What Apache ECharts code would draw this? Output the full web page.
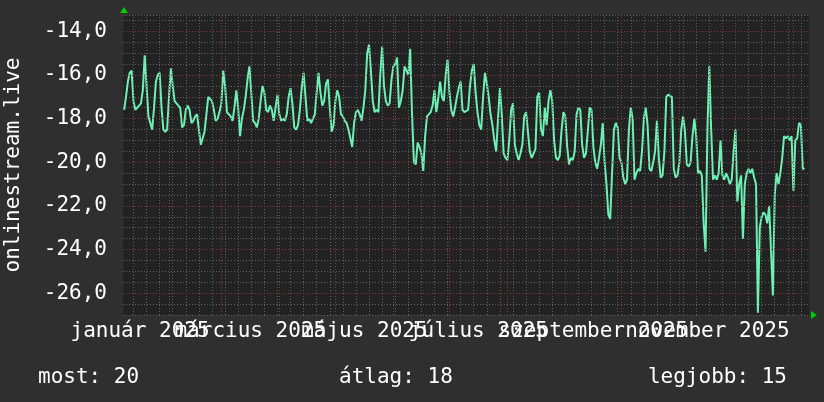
<!DOCTYPE html>
<html><head><meta charset="utf-8">
<script src="https://cdn.jsdelivr.net/npm/echarts@6/dist/echarts.min.js"></script>
<style>html,body{margin:0;padding:0;background:#2f2f2f}#c{width:824px;height:402px}</style>
</head><body><div id="c"></div>
<script>
// ---- data ----
const seriesName = 'onlinestream.live';
const firstDay = [2025, 0, 8];            // first daily sample
const values = [
-17.6,-17.0,-16.3,-15.9,-15.8,-17.2,-17.6,-17.5,-17.4,-17.3,-16.7,-15.1,-15.1,-17.9,
-18.2,-18.5,-17.5,-16.3,-16.0,-15.9,-17.5,-18.5,-18.6,-18.5,
-17.0,-15.7,-16.5,-17.2,-17.3,-17.4,-17.5,-18.4,-18.3,-17.6,
-17.4,-17.6,-18.2,-18.1,-17.9,-17.8,-18.5,-19.2,-18.9,-18.6,
-17.8,-17.0,-17.0,-17.2,-17.6,-18.1,-18.0,-17.7,-17.3,-15.8,
-16.5,-17.7,-17.8,-17.9,-18.1,-17.5,-16.7,-17.5,-18.8,-18.0,
-17.6,-17.0,-16.2,-15.6,-16.8,-18.1,-18.2,-18.4,-18.0,-17.2,
-16.5,-16.8,-17.6,-17.7,-17.4,-17.6,-18.1,-17.5,-16.9,-17.8,
-18.1,-18.0,-18.1,-17.8,-17.0,-16.6,-17.3,-18.4,-18.5,-18.3,
-17.6,-16.6,-15.9,-17.0,-18.1,-18.0,-18.2,-18.2,-17.8,-16.8,
-15.9,-16.8,-17.4,-17.2,-16.4,-16.2,-17.5,-18.6,-18.3,-17.2,
-16.7,-17.0,-17.8,-17.9,-18.1,-18.2,-18.5,-18.9,-19.3,-18.2,
-17.7,-17.6,-17.8,-18.1,-17.5,-16.7,-15.0,-14.6,-15.8,-17.2,
-17.7,-17.6,-17.7,-16.0,-14.7,-16.5,-17.2,-17.4,-17.3,-16.2,
-15.6,-15.5,-15.2,-17.5,-17.2,-16.7,-15.6,-15.8,-16.0,-14.8,
-17.8,-20.0,-20.1,-19.1,-19.3,-19.6,-20.4,-18.8,-17.9,-17.9,
-17.7,-17.4,-16.7,-17.7,-17.1,-16.3,-17.0,-17.2,-16.0,-15.3,
-16.8,-17.6,-17.9,-17.5,-17.0,-16.6,-16.3,-17.6,-17.7,-17.7,
-17.6,-16.5,-15.8,-15.5,-16.8,-17.7,-18.3,-18.5,-17.0,-15.9,
-16.4,-17.0,-17.8,-18.3,-19.0,-19.5,-18.0,-16.6,-17.8,-19.6,
-19.8,-19.9,-19.0,-17.6,-17.3,-19.2,-19.6,-19.9,-19.6,-19.2,
-17.9,-17.7,-18.6,-19.5,-19.8,-19.8,-19.4,-17.0,-16.8,-18.5,
-18.8,-17.5,-18.3,-17.2,-16.7,-17.2,-19.0,-19.8,-19.9,-19.7,
-18.5,-17.7,-17.9,-19.3,-20.1,-19.8,-19.9,-19.5,-17.8,-17.5,
-17.6,-19.2,-19.8,-19.6,-18.6,-17.5,-17.6,-19.3,-20.0,-20.3,
-19.8,-19.2,-18.2,-20.0,-21.0,-22.4,-22.6,-20.5,-18.5,-18.2,
-18.4,-19.8,-20.0,-20.7,-21.0,-20.8,-18.5,-17.5,-18.0,-20.8,
-20.5,-20.3,-20.4,-19.5,-18.0,-17.5,-18.3,-20.3,-20.4,-20.0,
-19.5,-18.1,-19.8,-20.7,-20.6,-19.5,-17.0,-16.9,-16.9,-17.0,
-20.3,-20.7,-20.6,-20.0,-18.5,-17.9,-18.6,-20.1,-20.2,-20.0,
-18.8,-18.0,-18.8,-20.5,-20.4,-20.6,-22.8,-24.1,-18.5,-15.6,
-18.5,-20.8,-20.6,-20.8,-20.5,-19.0,-20.6,-20.8,-20.5,-20.7,
-21.0,-20.8,-19.5,-18.5,-21.8,-21.0,-20.6,-23.5,-21.0,-20.5,
-20.3,-20.5,-20.3,-20.7,-21.0,-26.9,-23.0,-22.5,-22.3,-22.4,
-22.8,-22.0,-24.0,-26.1,-21.5,-20.5,-21.0,-20.5,-19.8,-18.8,
-18.9,-18.8,-19.0,-18.8,-21.3,-19.0,-18.9,-18.2,-18.3,-20.3,-20.3
];
const monthNames = ['január','február','március','április','május','június','július','augusztus','szeptember','október','november','december'];
const labelMonths = [0, 2, 4, 6, 8, 10];   // months labelled in 2025
const yMajorTicks = [-14, -16, -18, -20, -22, -24, -26];
const footer = ['most: 20', 'átlag: 18', 'legjobb: 15'];

// ---- build ----
const DAY = 86400000;
const t0 = Date.UTC(firstDay[0], firstDay[1], firstDay[2]);
const points = values.map((v, i) => [t0 + i * DAY, v]);
const xMin = Date.UTC(2025, 0, 7, 9, 30);
const xMax = Date.UTC(2026, 0, 9, 8, 0);
const midMonth = m => (Date.UTC(2025, m, 1) + Date.UTC(2025, m + 1, 1)) / 2;
const labelsA = labelMonths.filter((m, i) => i % 2 === 0).map(midMonth);
const labelsB = labelMonths.filter((m, i) => i % 2 === 1).map(midMonth);
const monthLines = [];
for (let m = 1; m <= 12; m++) monthLines.push({ xAxis: Date.UTC(2025, m, 1) });
const weekLines = [];
for (let t = Date.UTC(2025, 0, 13); t <= xMax; t += 7 * DAY) weekLines.push({ xAxis: t });

const FONT = 'DejaVu Sans Mono';
const GRAY = '#616161', RED = '#8e3a3a';
const monthFmt = v => { const d = new Date(v); return monthNames[d.getUTCMonth()] + ' ' + d.getUTCFullYear(); };
const xAxisFor = (vals, show) => ({
  type: 'value', min: xMin, max: xMax, scale: true, position: 'bottom',
  axisLine: { show: false }, axisTick: { show: false }, splitLine: { show: false },
  axisLabel: {
    customValues: vals,
    color: '#ffffff', fontFamily: FONT, fontSize: 21, margin: 6, hideOverlap: false,
    showMinLabel: true, showMaxLabel: true, formatter: monthFmt
  }
});
const chart = echarts.init(document.getElementById('c'), null, { renderer: 'canvas' });
chart.setOption({
  animation: false,
  backgroundColor: '#2f2f2f',
  textStyle: { fontFamily: FONT },
  title: [
    { text: footer[0], left: 33, top: 362, textStyle: { color: '#ffffff', fontFamily: FONT, fontSize: 21, fontWeight: 'normal' } },
    { text: footer[1], left: 334, top: 362, textStyle: { color: '#ffffff', fontFamily: FONT, fontSize: 21, fontWeight: 'normal' } },
    { text: footer[2], right: 32, top: 362, textStyle: { color: '#ffffff', fontFamily: FONT, fontSize: 21, fontWeight: 'normal' } }
  ],
  grid: { left: 123, top: 15, right: 15, bottom: 87, show: true, backgroundColor: '#222222', borderWidth: 0,
          containLabel: false, outerBoundsMode: 'none' },
  xAxis: [xAxisFor(labelsA), xAxisFor(labelsB)],
  yAxis: {
    type: 'value', min: -27, max: -13.25, interval: 0.5,
    name: seriesName, nameLocation: 'middle', nameRotate: 90, nameGap: 99,
    nameTextStyle: { color: '#ffffff', fontFamily: FONT, fontSize: 21 },
    axisLine: { show: false }, axisTick: { show: false },
    axisLabel: {
      color: '#ffffff', fontFamily: FONT, fontSize: 21, margin: 16, interval: 0,
      formatter: v => yMajorTicks.indexOf(v) >= 0 ? v.toFixed(1).replace('.', ',') : ''
    },
    splitLine: { show: true, lineStyle: { color: GRAY, type: [1, 2], width: 1 } }
  },
  graphic: [
    { type: 'polygon', shape: { points: [[120, 13], [128, 13], [124, 7]] }, style: { fill: '#00cc00' } },
    { type: 'polygon', shape: { points: [[811, 311], [811, 319], [817, 315]] }, style: { fill: '#00cc00' } }
  ],
  series: [
    {
      type: 'line', data: [], z: 1, silent: true, xAxisIndex: 0,
      markLine: {
        silent: true, symbol: 'none', label: { show: false }, animation: false,
        lineStyle: { color: GRAY, type: [1, 2], width: 1 },
        data: weekLines
      }
    },
    {
      type: 'line', data: [], z: 1, silent: true, xAxisIndex: 0,
      markLine: {
        silent: true, symbol: 'none', label: { show: false }, animation: false,
        lineStyle: { color: RED, type: [1, 2], width: 1 },
        data: monthLines.concat(yMajorTicks.map(v => ({ yAxis: v })))
      }
    },
    {
      name: seriesName, type: 'line', data: points, z: 3, xAxisIndex: 0,
      showSymbol: false, symbol: 'none',
      lineStyle: { color: '#6cf0b4', width: 2 }
    }
  ]
});
</script></body></html>
